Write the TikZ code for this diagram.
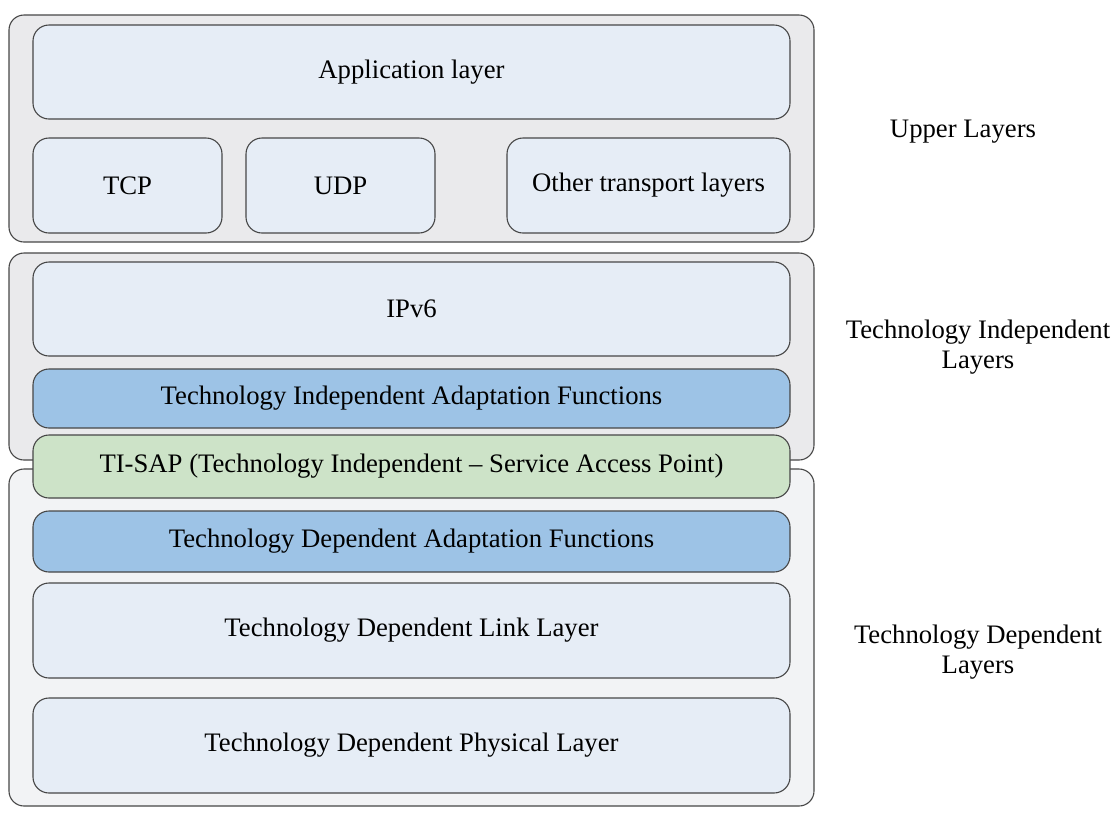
\documentclass[tikz,border=0pt]{standalone}
\usepackage{fontspec}
\setmainfont{Liberation Serif}
\begin{document}
\begin{tikzpicture}[x=1pt,y=-1pt,
  every node/.style={font=\fontsize{26.7}{30}\selectfont, inner sep=0pt, text=black},
  grp/.style={draw=black!72, line width=1.1pt, rounded corners=15pt},
  box/.style={draw=black!72, line width=1.1pt, rounded corners=16pt, fill=lightbox},
  bluebox/.style={box, fill=bluefill},
  greenbox/.style={box, fill=greenfill},
  lbl/.style={align=center}
]
\definecolor{lightbox}{HTML}{E6EDF6}
\definecolor{bluefill}{HTML}{9DC3E6}
\definecolor{greenfill}{HTML}{CDE3C8}
\definecolor{grpA}{HTML}{EAEAEC}
\definecolor{grpC}{HTML}{F2F3F5}
\useasboundingbox (0,0) rectangle (1114,812);
% groups
\node[grp, fill=grpA, minimum width=805pt, minimum height=227pt] (gup) at (411.5,128.5) {};
\node[grp, fill=grpA, minimum width=805pt, minimum height=207pt] (gind) at (411.5,356.5) {};
\node[grp, fill=grpC, minimum width=805pt, minimum height=337pt] (gdep) at (411.5,637.5) {};
% boxes
\node[box, minimum width=757pt, minimum height=94pt] (app) at (411.5,72) {Application layer};
\node[box, minimum width=189pt, minimum height=95pt] (tcp) at (127.5,185.5) {TCP};
\node[box, minimum width=189pt, minimum height=95pt] (udp) at (340.5,185.5) {UDP};
\node[box, minimum width=283pt, minimum height=95pt] (oth) at (648.5,185.5) {Other transport layers};
\node[box, minimum width=757pt, minimum height=94pt] (ipv6) at (411.5,309) {IPv6};
\node[bluebox, minimum width=757pt, minimum height=59pt] (tiaf) at (411.5,398.5) {Technology Independent Adaptation Functions};
\node[greenbox, minimum width=757pt, minimum height=63pt] (tisap) at (411.5,466.5) {TI-SAP (Technology Independent -- Service Access Point)};
\node[bluebox, minimum width=757pt, minimum height=61pt] (tdaf) at (411.5,541.5) {Technology Dependent Adaptation Functions};
\node[box, minimum width=757pt, minimum height=95pt] (link) at (411.5,630.5) {Technology Dependent Link Layer};
\node[box, minimum width=757pt, minimum height=95pt] (phys) at (411.5,745.5) {Technology Dependent Physical Layer};
% side labels
\node[lbl] (lup) at (963,132) {Upper Layers};
\node[lbl] (lind) at (978,347) {Technology Independent\\Layers};
\node[lbl] (ldep) at (978,652) {Technology Dependent\\Layers};
\end{tikzpicture}
\end{document}
